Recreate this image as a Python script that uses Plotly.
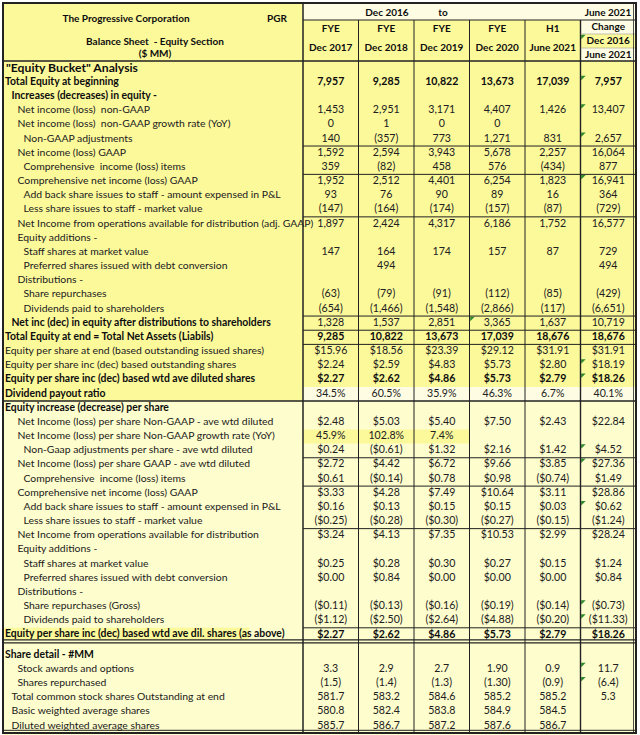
import plotly.graph_objects as go

# ---------------- DATA ----------------
title_lines = ["The Progressive Corporation", "PGR", "Balance Sheet  - Equity Section", "($ MM)"]
period_header = ["Dec 2016", "to", "June 2021"]
col_top = ["FYE", "FYE", "FYE", "FYE", "H1", "Change"]
col_bottom = ["Dec 2017", "Dec 2018", "Dec 2019", "Dec 2020", "June 2021", "Dec 2016"]
change_extra = "June 2021"

row_labels = [
    '"Equity Bucket" Analysis',
    "Total Equity at beginning",
    "Increases (decreases) in equity -",
    "Net income (loss)  non-GAAP",
    "Net income (loss)  non-GAAP growth rate (YoY)",
    "Non-GAAP adjustments",
    "Net income (loss) GAAP",
    "Comprehensive  income (loss) items",
    "Comprehensive net income (loss) GAAP",
    "Add back share issues to staff - amount expensed in P&L",
    "Less share issues to staff - market value",
    "Net Income from operations available for distribution (adj. GAAP)",
    "Equity additions -",
    "Staff shares at market value",
    "Preferred shares issued with debt conversion",
    "Distributions -",
    "Share repurchases",
    "Dividends paid to shareholders",
    "Net inc (dec) in equity after distributions to shareholders",
    "Total Equity at end = Total Net Assets (Liabils)",
    "Equity per share at end (based outstanding issued shares)",
    "Equity per share inc (dec) based outstanding shares",
    "Equity per share inc (dec) based wtd ave diluted shares",
    "Dividend payout ratio",
    "Equity increase (decrease) per share",
    "Net Income (loss) per share Non-GAAP - ave wtd diluted",
    "Net Income (loss) per share Non-GAAP growth rate (YoY)",
    "Non-Gaap adjustments per share - ave wtd diluted",
    "Net Income (loss) per share GAAP - ave wtd diluted",
    "Comprehensive  income (loss) items",
    "Comprehensive net income (loss) GAAP",
    "Add back share issues to staff - amount expensed in P&L",
    "Less share issues to staff - market value",
    "Net Income from operations available for distribution",
    "Equity additions -",
    "Staff shares at market value",
    "Preferred shares issued with debt conversion",
    "Distributions -",
    "Share repurchases (Gross)",
    "Dividends paid to shareholders",
    "Equity per share inc (dec) based wtd ave dil. shares (as above)",
    "Share detail - #MM",
    "Stock awards and options",
    "Shares repurchased",
    "Total common stock shares Outstanding at end",
    "Basic weighted average shares",
    "Diluted weighted average shares",
]

fye_2017 = ["", "7,957", "", "1,453", "0", "140", "1,592", "359", "1,952", "93", "(147)", "1,897", "", "147", "",
            "", "(63)", "(654)", "1,328", "9,285", "$15.96", "$2.24", "$2.27", "34.5%", "", "$2.48", "45.9%",
            "$0.24", "$2.72", "$0.61", "$3.33", "$0.16", "($0.25)", "$3.24", "", "$0.25", "$0.00", "", "($0.11)",
            "($1.12)", "$2.27", "", "3.3", "(1.5)", "581.7", "580.8", "585.7"]
fye_2018 = ["", "9,285", "", "2,951", "1", "(357)", "2,594", "(82)", "2,512", "76", "(164)", "2,424", "", "164", "494",
            "", "(79)", "(1,466)", "1,537", "10,822", "$18.56", "$2.59", "$2.62", "60.5%", "", "$5.03", "102.8%",
            "($0.61)", "$4.42", "($0.14)", "$4.28", "$0.13", "($0.28)", "$4.13", "", "$0.28", "$0.84", "", "($0.13)",
            "($2.50)", "$2.62", "", "2.9", "(1.4)", "583.2", "582.4", "586.7"]
fye_2019 = ["", "10,822", "", "3,171", "0", "773", "3,943", "458", "4,401", "90", "(174)", "4,317", "", "174", "",
            "", "(91)", "(1,548)", "2,851", "13,673", "$23.39", "$4.83", "$4.86", "35.9%", "", "$5.40", "7.4%",
            "$1.32", "$6.72", "$0.78", "$7.49", "$0.15", "($0.30)", "$7.35", "", "$0.30", "$0.00", "", "($0.16)",
            "($2.64)", "$4.86", "", "2.7", "(1.3)", "584.6", "583.8", "587.2"]
fye_2020 = ["", "13,673", "", "4,407", "0", "1,271", "5,678", "576", "6,254", "89", "(157)", "6,186", "", "157", "",
            "", "(112)", "(2,866)", "3,365", "17,039", "$29.12", "$5.73", "$5.73", "46.3%", "", "$7.50", "",
            "$2.16", "$9.66", "$0.98", "$10.64", "$0.15", "($0.27)", "$10.53", "", "$0.27", "$0.00", "", "($0.19)",
            "($4.88)", "$5.73", "", "1.90", "(1.30)", "585.2", "584.9", "587.6"]
h1_2021 = ["", "17,039", "", "1,426", "", "831", "2,257", "(434)", "1,823", "16", "(87)", "1,752", "", "87", "",
           "", "(85)", "(117)", "1,637", "18,676", "$31.91", "$2.80", "$2.79", "6.7%", "", "$2.43", "",
           "$1.42", "$3.85", "($0.74)", "$3.11", "$0.03", "($0.15)", "$2.99", "", "$0.15", "$0.00", "", "($0.14)",
           "($0.20)", "$2.79", "", "0.9", "(0.9)", "585.2", "584.5", "586.7"]
change_total = ["", "7,957", "", "13,407", "", "2,657", "16,064", "877", "16,941", "364", "(729)", "16,577", "", "729", "494",
                "", "(429)", "(6,651)", "10,719", "18,676", "$31.91", "$18.19", "$18.26", "40.1%", "", "$22.84", "",
                "$4.52", "$27.36", "$1.49", "$28.86", "$0.62", "($1.24)", "$28.24", "", "$1.24", "$0.84", "", "($0.73)",
                "($11.33)", "$18.26", "", "11.7", "(6.4)", "5.3", "", ""]
value_columns = [fye_2017, fye_2018, fye_2019, fye_2020, h1_2021, change_total]

# Excel "error indicator" flags (col index, row index); row -1 = header
flag_cells = [(5, 1), (5, 3), (5, 5), (5, 8), (5, -1), (3, 18), (5, 21), (5, 22), (5, 27), (5, 28),
              (5, 31), (5, 38), (5, 39), (5, 42), (5, 43)]

# ---------------- LAYOUT / STYLE ----------------
row_level = [0, 0, 1, 2, 2, 3, 2, 3, 2, 3, 3, 2, 2, 3, 3, 2, 3, 3, 1, 0, 0, 0, 0, 0, 0, 2, 2, 3, 2, 3, 2, 3, 3,
             2, 2, 3, 3, 2, 3, 3, 0, 0, 2, 2, 1, 1, 1]
label_bold = {0, 1, 2, 18, 19, 22, 23, 24, 40, 41}
value_bold = {1, 19, 22, 40}
level_x = {0: 5, 1: 11.5, 2: 17.5, 3: 23.5}

YEL = "#FCF99B"
PALE = "#FEFDCD"
PALE2 = "#FEFDE4"
LINE = "#222222"
TXT = "#202020"
BTXT = "#0d0d0d"
FONT = "Lato, Carlito, Calibri, sans-serif"
LABEL_SIZE = 10.4
VALUE_SIZE = 10.6
HEAD_SIZE = 10

XE = [3, 303, 358.5, 414, 469.5, 525, 580.5, 636]
H = 14.17


def row_top(i):
    return 61 + H * i if i <= 40 else 648 + H * (i - 41)


def row_mid(i):
    return row_top(i) + H / 2


shapes = []


def rect(x0, x1, y0, y1, color):
    shapes.append(dict(type="rect", xref="x", yref="y", x0=x0, x1=x1, y0=y0, y1=y1,
                       fillcolor=color, line=dict(width=0), layer="below"))


def hline(y, x0, x1, w=1, color=LINE):
    shapes.append(dict(type="line", xref="x", yref="y", x0=x0, x1=x1, y0=y, y1=y,
                       line=dict(color=color, width=w)))


def vline(x, y0, y1, w=1, color=LINE):
    shapes.append(dict(type="line", xref="x", yref="y", x0=x, x1=x, y0=y0, y1=y1,
                       line=dict(color=color, width=w)))


# backgrounds
rect(XE[0], XE[1], 3, 61, YEL)
rect(XE[1], XE[-1], 3, 20, PALE2)
rect(XE[1], XE[6], 20, 61, YEL)
rect(XE[6], XE[7], 20, 34, PALE2)
rect(XE[6], XE[7], 34, 48, YEL)
rect(XE[6], XE[7], 48, 61, PALE2)
rect(XE[0], XE[-1], 61, row_top(23), YEL)
rect(XE[0], XE[1], row_top(23), row_top(24), YEL)
rect(XE[1], XE[-1], row_top(23), row_top(24), PALE2)
rect(XE[0], XE[-1], row_top(24), 735, PALE)
rect(XE[1], XE[4], row_top(26), row_top(27), YEL)
rect(XE[0], 249, row_top(40), 639.5, YEL)

# grid lines
for k in range(2, 7):
    vline(XE[k], 20, 733, 1)
vline(XE[6], 20, 733, 1.4)
hline(20, XE[1], XE[-1], 1)
hline(34, XE[6], XE[7], 0.6, "#9a9a9a")
hline(48, XE[6], XE[7], 0.6, "#9a9a9a")
hline(61, XE[0], XE[-1], 1.5)
for r in [6, 8, 11, 18, 19, 20, 28, 30, 33, 40]:
    hline(row_top(r), XE[1], XE[-1], 1)
hline(row_top(24), XE[0], XE[-1], 1.5)
hline(639.8, XE[0], XE[-1], 1.2)
hline(642.8, XE[0], XE[-1], 1.2)
hline(730.3, XE[0], XE[-1], 1)
vline(XE[1], 3, 733, 1.5)
vline(633.5, 3, 733, 0.8)
shapes.append(dict(type="rect", xref="x", yref="y", x0=XE[0], x1=XE[-1], y0=3, y1=733,
                   line=dict(color=LINE, width=2), fillcolor="rgba(0,0,0,0)"))

fig = go.Figure()

# row labels
for bold in (False, True):
    xs, ys, ts = [], [], []
    for i, lab in enumerate(row_labels):
        if i == 0 or ((i in label_bold) != bold):
            continue
        xs.append(level_x[row_level[i]])
        ys.append(row_mid(i))
        ts.append(f"<b>{lab}</b>" if bold else lab)
    fig.add_trace(go.Scatter(x=xs, y=ys, text=ts, mode="text", textposition="middle right",
                             textfont=dict(family=FONT, size=LABEL_SIZE, color=BTXT if bold else TXT),
                             hoverinfo="skip", showlegend=False))
fig.add_trace(go.Scatter(x=[level_x[0] + 1], y=[row_mid(0) + 0.5], text=[f"<b>{row_labels[0]}</b>"], mode="text",
                         textposition="middle right", textfont=dict(family=FONT, size=12.2, color=BTXT),
                         hoverinfo="skip", showlegend=False))

# values
centers = [(XE[k + 1] + XE[k + 2]) / 2 for k in range(6)]
for bold in (False, True):
    xs, ys, ts = [], [], []
    for c, col in enumerate(value_columns):
        for i, v in enumerate(col):
            if not v or ((i in value_bold) != bold):
                continue
            xs.append(centers[c])
            ys.append(row_mid(i))
            ts.append(f"<b>{v}</b>" if bold else v)
    fig.add_trace(go.Scatter(x=xs, y=ys, text=ts, mode="text", textposition="middle center",
                             textfont=dict(family=FONT, size=VALUE_SIZE, color=BTXT if bold else TXT),
                             hoverinfo="skip", showlegend=False))

# headers
hy_top = [29] * 5 + [27.5]
hy_bot = [48] * 5 + [41.5]
fig.add_trace(go.Scatter(
    x=centers + centers + [centers[5]],
    y=hy_top + hy_bot + [55],
    text=[f"<b>{t}</b>" for t in col_top + col_bottom + [change_extra]],
    mode="text", textposition="middle center",
    textfont=dict(family=FONT, size=HEAD_SIZE, color=BTXT), hoverinfo="skip", showlegend=False))
fig.add_trace(go.Scatter(
    x=[387, 443, 608], y=[13, 13, 13],
    text=[f"<b>{t}</b>" for t in period_header],
    mode="text", textposition="middle center",
    textfont=dict(family=FONT, size=HEAD_SIZE, color=BTXT), hoverinfo="skip", showlegend=False))
fig.add_trace(go.Scatter(
    x=[126, 277, 155, 155], y=[19, 19, 42, 54.5],
    text=[f"<b>{t}</b>" for t in title_lines],
    mode="text", textposition="middle center",
    textfont=dict(family=FONT, size=HEAD_SIZE, color=BTXT), hoverinfo="skip", showlegend=False))

# error-indicator triangles
fx, fy = [], []
for c, r in flag_cells:
    fx.append(XE[c + 1] + 2.2)
    fy.append((34 if r == -1 else row_top(r)) + 2.2)
fig.add_trace(go.Scatter(x=fx, y=fy, mode="markers",
                         marker=dict(symbol="triangle-nw", size=5, color="#2e8b2e", line=dict(width=0)),
                         hoverinfo="skip", showlegend=False))

fig.update_layout(
    width=640, height=735, margin=dict(l=0, r=0, t=0, b=0),
    paper_bgcolor="white", plot_bgcolor="white", shapes=shapes,
    xaxis=dict(range=[0, 640], visible=False, fixedrange=True),
    yaxis=dict(range=[735, 0], visible=False, fixedrange=True),
)
fig.write_html("out.html", config={"displayModeBar": False},
               post_script="document.body.style.margin='0px';document.body.style.overflow='hidden';")
